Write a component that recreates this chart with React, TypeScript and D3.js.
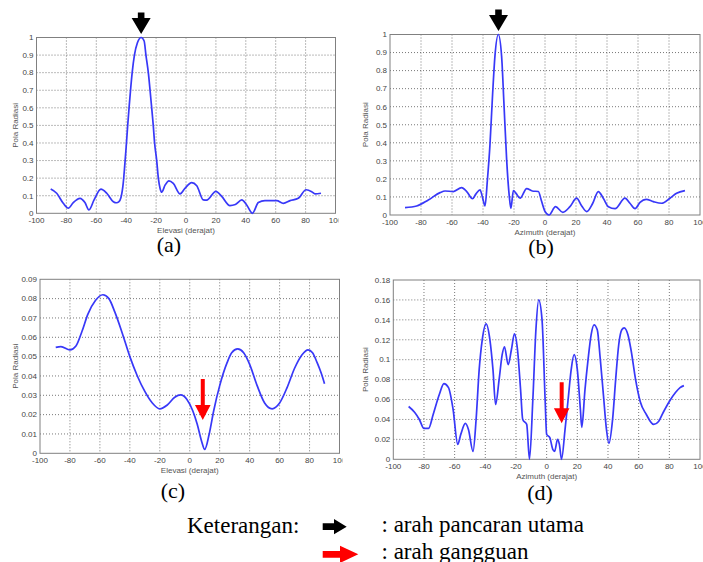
import React from "react";
import * as d3 from "d3";

// ---------- data ----------
const xTickValues = [-100, -80, -60, -40, -20, 0, 20, 40, 60, 80, 100];
const yTicksAB = [0, 0.1, 0.2, 0.3, 0.4, 0.5, 0.6, 0.7, 0.8, 0.9, 1];
const yTicksC = [0, 0.01, 0.02, 0.03, 0.04, 0.05, 0.06, 0.07, 0.08, 0.09];
const yTicksD = [0, 0.02, 0.04, 0.06, 0.08, 0.1, 0.12, 0.14, 0.16, 0.18];

// (a) Elevasi – pola radiasi
const anglesA = [-90.5, -86.5, -82.1, -78.7, -75.4, -70.9, -67.6, -64.9, -61.5, -56.9, -53, -48.6, -46.4, -45, -43.5, -42, -41, -40, -39, -38, -37, -36, -34.5, -32.5, -30, -28, -26.8, -25.2, -23.5, -21.9, -21, -19.6, -18.5, -17.3, -16.3, -14, -11.4, -8.5, -4, -0.7, 3.8, 7.2, 11.6, 13.8, 20, 23.9, 29.4, 33, 37.3, 40.6, 44.4, 48.4, 52.8, 60.7, 65.1, 69.6, 75.1, 80.3, 84.1, 86.3, 90.3];
const valuesA = [0.138, 0.114, 0.057, 0.029, 0.061, 0.085, 0.061, 0.019, 0.076, 0.137, 0.114, 0.066, 0.06, 0.065, 0.09, 0.17, 0.27, 0.38, 0.5, 0.61, 0.71, 0.8, 0.9, 0.97, 1.0, 0.98, 0.9, 0.8, 0.65, 0.5, 0.4, 0.3, 0.2, 0.14, 0.12, 0.16, 0.185, 0.17, 0.11, 0.142, 0.175, 0.157, 0.076, 0.075, 0.125, 0.096, 0.044, 0.05, 0.076, 0.047, 0.0, 0.061, 0.072, 0.072, 0.057, 0.072, 0.085, 0.134, 0.123, 0.11, 0.114];

// (b) Azimuth – pola radiasi
const anglesB = [-90.3, -82.8, -75.3, -67.7, -64.5, -59.1, -53.8, -50.5, -46.8, -44.5, -41.9, -40.2, -38.7, -37.2, -35.5, -33.8, -32.3, -30.1, -28, -26.5, -24.7, -23, -22, -20.4, -18.7, -16.1, -11.8, -8.2, -4.3, -2.2, 0, 2.6, 6.8, 11.5, 16.1, 20.4, 23.7, 26.9, 30.8, 34.4, 37.6, 40.9, 45.2, 51.6, 54.8, 58.1, 61.3, 65.2, 69.9, 75.3, 80.6, 84.9, 90.3];
const valuesB = [0.041, 0.05, 0.083, 0.124, 0.133, 0.13, 0.152, 0.13, 0.09, 0.117, 0.139, 0.093, 0.05, 0.19, 0.39, 0.67, 0.88, 1.0, 0.88, 0.62, 0.3, 0.1, 0.037, 0.135, 0.12, 0.093, 0.146, 0.133, 0.13, 0.076, 0.02, 0.0, 0.046, 0.015, 0.046, 0.093, 0.05, 0.019, 0.065, 0.13, 0.093, 0.046, 0.035, 0.093, 0.065, 0.035, 0.07, 0.087, 0.074, 0.065, 0.093, 0.12, 0.135];

// (c) Elevasi – arah gangguan
const anglesC = [-89.5, -86, -80, -76, -72, -68, -63, -58, -54, -50, -45, -40, -35, -30, -25, -20, -15, -10, -6, -2, 2, 5, 8, 10, 13, 16, 20, 25, 28, 32, 36, 40, 45, 50, 55, 60, 65, 70, 75, 79, 82, 85, 88, 90];
const valuesC = [0.0548, 0.0552, 0.0535, 0.0555, 0.063, 0.072, 0.079, 0.082, 0.08, 0.073, 0.062, 0.05, 0.04, 0.032, 0.026, 0.023, 0.025, 0.029, 0.0302, 0.028, 0.022, 0.015, 0.006, 0.002, 0.01, 0.022, 0.035, 0.047, 0.052, 0.054, 0.052, 0.046, 0.035, 0.026, 0.023, 0.026, 0.034, 0.044, 0.051, 0.0535, 0.052, 0.047, 0.041, 0.036];

// (d) Azimuth – arah gangguan
const anglesD = [-90, -86, -83, -80, -77, -74, -70, -67, -64, -61, -58, -56, -53, -51, -48, -46, -44, -42, -39.5, -37, -35, -33.3, -31, -29, -27.5, -25.1, -23, -21, -19, -17, -15.6, -13, -11.2, -9, -7, -5.2, -3, -1, 0, 2, 4, 5.2, 7.1, 8.3, 9.7, 12, 14, 16, 17.9, 20, 22, 22.9, 25, 27, 29, 30.9, 33, 35, 37, 39, 40.6, 43, 45, 47, 49, 50.6, 53, 55, 58, 61, 65, 69.8, 73, 76, 80, 84, 87, 89.5];
const valuesD = [0.053, 0.047, 0.04, 0.031, 0.031, 0.045, 0.065, 0.076, 0.072, 0.05, 0.015, 0.025, 0.036, 0.03, 0.008, 0.04, 0.09, 0.12, 0.136, 0.12, 0.09, 0.055, 0.08, 0.105, 0.113, 0.095, 0.11, 0.126, 0.11, 0.07, 0.04, 0.035, 0.0, 0.06, 0.13, 0.16, 0.14, 0.06, 0.025, 0.022, 0.01, 0.008, 0.02, 0.015, 0.0, 0.03, 0.06, 0.09, 0.105, 0.09, 0.05, 0.032, 0.07, 0.1, 0.125, 0.135, 0.13, 0.1, 0.065, 0.03, 0.016, 0.04, 0.08, 0.115, 0.13, 0.132, 0.125, 0.11, 0.08, 0.058, 0.045, 0.035, 0.038, 0.047, 0.058, 0.067, 0.072, 0.074];

const mainBeamAngle = -30;
const mainBeamValue = 1;
const interferenceAngleC = 8.7;
const interferenceValueC = 0.0172;
const interferenceAngleD = 9.8;
const interferenceValueD = 0.0361;

const legendTitle = "Keterangan:";
const legendMain = ": arah pancaran utama";
const legendInterf = ": arah gangguan";

// ---------- layout ----------
type Panel = {
  id: string;
  x0: number; x1: number; y0: number; y1: number;
  yMax: number; yTicks: number[];
  xLabel: string; caption: string; capX: number; capY: number; yLabelX: number;
  angles: number[]; values: number[];
  arrow: "main" | "interf"; arrowAngle: number; arrowValue: number;
};

const panels: Panel[] = [
  { id: "a", x0: 36.5, x1: 335.5, y0: 37.5, y1: 213.3, yMax: 1, yTicks: yTicksAB, xLabel: "Elevasi (derajat)", caption: "(a)", capX: 169, capY: 252, yLabelX: 15,
    angles: anglesA, values: valuesA, arrow: "main", arrowAngle: mainBeamAngle, arrowValue: mainBeamValue },
  { id: "b", x0: 390, x1: 700, y0: 34.5, y1: 215, yMax: 1, yTicks: yTicksAB, xLabel: "Azimuth (derajat)", caption: "(b)", capX: 541, capY: 254, yLabelX: 365,
    angles: anglesB, values: valuesB, arrow: "main", arrowAngle: mainBeamAngle, arrowValue: mainBeamValue },
  { id: "c", x0: 40, x1: 339.5, y0: 279.3, y1: 453.3, yMax: 0.09, yTicks: yTicksC, xLabel: "Elevasi (derajat)", caption: "(c)", capX: 173, capY: 498, yLabelX: 15,
    angles: anglesC, values: valuesC, arrow: "interf", arrowAngle: interferenceAngleC, arrowValue: interferenceValueC },
  { id: "d", x0: 393.3, x1: 700, y0: 280, y1: 459.3, yMax: 0.18, yTicks: yTicksD, xLabel: "Azimuth (derajat)", caption: "(d)", capX: 540, capY: 500, yLabelX: 365,
    angles: anglesD, values: valuesD, arrow: "interf", arrowAngle: interferenceAngleD, arrowValue: interferenceValueD },
];

const sans = "'Liberation Sans', Arial, Helvetica, sans-serif";
const serif = "'Liberation Serif', 'Times New Roman', serif";

function fmt(v: number) {
  return String(+v.toFixed(3));
}

function PanelChart({ p }: { p: Panel }) {
  const x = d3.scaleLinear().domain([-100, 100]).range([p.x0, p.x1]);
  const y = d3.scaleLinear().domain([0, p.yMax]).range([p.y1, p.y0]);
  const pts: [number, number][] = p.angles.map((a, i) => [a, p.values[i]]);
  const line = d3
    .line<[number, number]>()
    .x((d) => x(d[0]))
    .y((d) => y(d[1]))
    .curve(d3.curveMonotoneX);
  const clipId = "clip-" + p.id;
  const ax = x(p.arrowAngle);
  let arrowPath = "";
  let arrowFill = "#000";
  if (p.arrow === "main") {
    const tip = y(p.arrowValue) - 3.5;
    const hw = 9.5, hh = 16, sw = 3.3, sh = 5.5;
    arrowPath = `M${ax},${tip} L${ax - hw},${tip - hh} L${ax - sw},${tip - hh} L${ax - sw},${tip - hh - sh} L${ax + sw},${tip - hh - sh} L${ax + sw},${tip - hh} L${ax + hw},${tip - hh} Z`;
  } else {
    arrowFill = "#ff0000";
    const tip = y(p.arrowValue);
    const hw = 7.8, hh = 15, sw = 2, sh = 26;
    arrowPath = `M${ax},${tip} L${ax - hw},${tip - hh} L${ax - sw},${tip - hh} L${ax - sw},${tip - hh - sh} L${ax + sw},${tip - hh - sh} L${ax + sw},${tip - hh} L${ax + hw},${tip - hh} Z`;
  }
  const cy = (p.y0 + p.y1) / 2;
  return (
    <g>
      <defs>
        <clipPath id={clipId}>
          <rect x={p.x0 - 40} y={p.y1} width={p.x1 - p.x0 + 43} height={20} />
        </clipPath>
      </defs>
      <rect x={p.x0} y={p.y0} width={p.x1 - p.x0} height={p.y1 - p.y0} fill="#fff" />
      {xTickValues.slice(1, -1).map((t) => (
        <line key={"gx" + t} x1={x(t)} x2={x(t)} y1={p.y0} y2={p.y1} stroke="#555" strokeWidth={0.8} strokeDasharray="1 2" />
      ))}
      {p.yTicks.slice(1, -1).map((t) => (
        <line key={"gy" + t} x1={p.x0} x2={p.x1} y1={y(t)} y2={y(t)} stroke="#555" strokeWidth={0.8} strokeDasharray="1 2" />
      ))}
      <rect x={p.x0} y={p.y0} width={p.x1 - p.x0} height={p.y1 - p.y0} fill="none" stroke="#808080" strokeWidth={1} />
      <path d={line(pts) || ""} fill="none" stroke="#3838f8" strokeWidth={1.7} strokeLinejoin="round" />
      <g clipPath={`url(#${clipId})`}>
        {xTickValues.map((t) => (
          <text key={"tx" + t} x={x(t)} y={p.y1 + 9.5} textAnchor="middle" fontFamily={sans} fontSize={8} fill="#444">
            {fmt(t)}
          </text>
        ))}
      </g>
      {p.yTicks.map((t) => (
        <text key={"ty" + t} x={p.x0 - 3} y={y(t)} dy="0.35em" textAnchor="end" fontFamily={sans} fontSize={8} fill="#444">
          {fmt(t)}
        </text>
      ))}
      <text x={(p.x0 + p.x1) / 2} y={p.y1 + 20} textAnchor="middle" fontFamily={sans} fontSize={8} fill="#555">
        {p.xLabel}
      </text>
      <text transform={`translate(${p.yLabelX},${cy}) rotate(-90)`} textAnchor="middle" dy="0.35em" fontFamily={sans} fontSize={8} fill="#555">
        Pola Radiasi
      </text>
      <path d={arrowPath} fill={arrowFill} />
      <text x={p.capX} y={p.capY} textAnchor="middle" fontFamily={serif} fontSize={22} fill="#000">
        {p.caption}
      </text>
    </g>
  );
}

function RightArrow({ x0, stemEnd, tipX, cy, sh, hh, fill }: { x0: number; stemEnd: number; tipX: number; cy: number; sh: number; hh: number; fill: string }) {
  const d = `M${x0},${cy - sh / 2} L${stemEnd},${cy - sh / 2} L${stemEnd},${cy - hh / 2} L${tipX},${cy} L${stemEnd},${cy + hh / 2} L${stemEnd},${cy + sh / 2} L${x0},${cy + sh / 2} Z`;
  return <path d={d} fill={fill} />;
}

export default function App() {
  return (
    <svg width={703} height={562} viewBox="0 0 703 562" style={{ position: "absolute", left: 0, top: 0, background: "#fff" }}>
      <rect x={0} y={0} width={703} height={562} fill="#fff" />
      {panels.map((p) => (
        <PanelChart key={p.id} p={p} />
      ))}
      <text x={187} y={533} fontFamily={serif} fontSize={23} fill="#000">{legendTitle}</text>
      <RightArrow x0={322.7} stemEnd={334} tipX={346.7} cy={526.7} sh={6.7} hh={15.3} fill="#000" />
      <text x={381.5} y={532} fontFamily={serif} fontSize={23} fill="#000">{legendMain}</text>
      <RightArrow x0={322.7} stemEnd={340} tipX={358.3} cy={554.3} sh={6.7} hh={17.3} fill="#ff0000" />
      <text x={381.5} y={559} fontFamily={serif} fontSize={23} fill="#000">{legendInterf}</text>
    </svg>
  );
}
